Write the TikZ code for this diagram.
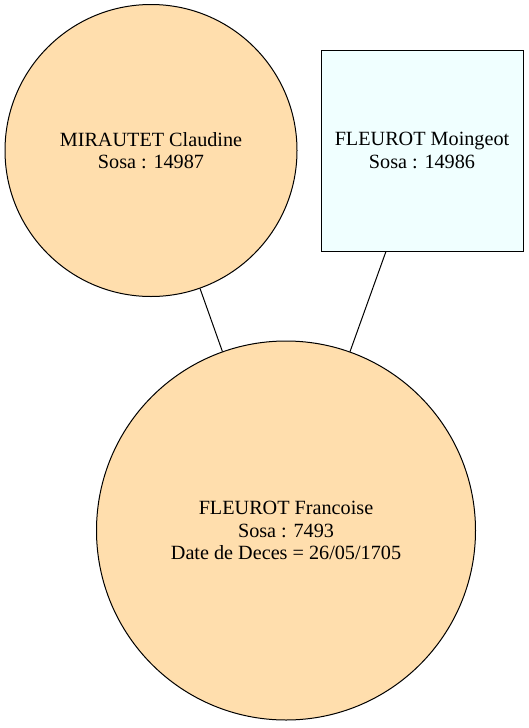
\documentclass[tikz,border=0pt]{standalone}
\usepackage{fontspec}
\setmainfont{Liberation Serif}
\definecolor{navajo}{HTML}{FFDEAD}
\definecolor{azurebox}{HTML}{F0FFFF}
\tikzset{
	person/.style={draw, line width=1pt, align=center, inner sep=0pt,
		font=\fontsize{20.2}{22.4}\selectfont},
	woman/.style={person, circle, fill=navajo},
	man/.style={person, rectangle, fill=azurebox}
}
\begin{document}
\begin{tikzpicture}[x=1pt,y=-1pt]
		\useasboundingbox (0,0) rectangle (528,728);
		\node (mc) [woman, minimum size=292pt] at (151,150.5)
		{MIRAUTET Claudine\\Sosa : 14987};
		\node (fm) [man, minimum width=202pt, minimum height=201pt] at (422,150.5)
		{FLEUROT Moingeot\\Sosa : 14986};
		\node (ff) [woman, minimum size=379pt] at (286,530.5)
		{FLEUROT Francoise\\Sosa : 7493\\Date de Deces = 26/05/1705};
		\draw [line width=1pt] (mc) -- (ff);
		\draw [line width=1pt] (fm) -- (ff);
		\end{tikzpicture}
\end{document}
